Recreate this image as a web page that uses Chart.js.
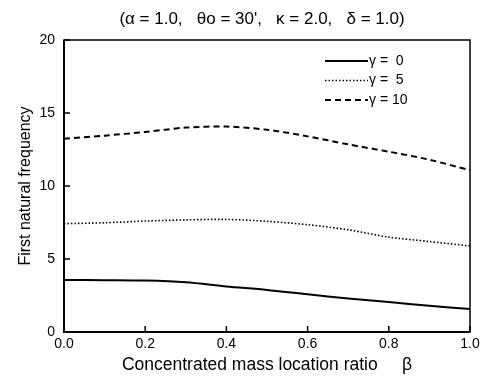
<!DOCTYPE html>
<html><head><meta charset="utf-8">
<script src="https://cdn.jsdelivr.net/npm/chart.js@4"></script>
<style>html,body{margin:0;padding:0;background:#fff}#wrap{width:490px;height:381px}</style>
</head><body><div id="wrap"><canvas id="c" width="490" height="381"></canvas></div>
<script>
const betas  = [0.0, 0.1, 0.2, 0.3, 0.4, 0.5, 0.6, 0.7, 0.8, 0.9, 1.0];
const gamma0 = [3.57, 3.55, 3.52, 3.40, 3.12, 2.88, 2.58, 2.30, 2.05, 1.80, 1.57];
const gamma5 = [7.42, 7.48, 7.60, 7.68, 7.71, 7.58, 7.35, 7.00, 6.50, 6.20, 5.89];
const gamma10 = [13.24, 13.45, 13.70, 14.00, 14.07, 13.85, 13.40, 12.85, 12.35, 11.80, 11.08];
const seriesLabels = ['\u03b3 =  0', '\u03b3 =  5', '\u03b3 = 10'];
const xTickValues = [0.0, 0.2, 0.4, 0.6, 0.8, 1.0];
const yTickValues = [0, 5, 10, 15, 20];
const titleText = "(\u03b1 = 1.0,   \u03b8o = 30',   \u03ba = 2.0,   \u03b4 = 1.0)";
const xTitle = 'Concentrated mass location ratio     \u03b2';
const yTitle = 'First natural frequency';

const FONT = "'Liberation Sans', Arial, sans-serif";
const toPts = arr => betas.map((b, i) => ({x: b, y: arr[i]}));

const styles = [
  {borderDash: [], borderWidth: 2},
  {borderDash: [1.5, 2], borderWidth: 1.6},
  {borderDash: [6, 4], borderWidth: 2}
];
const seriesData = [gamma0, gamma5, gamma10];

const framePlugin = {
  id: 'frame',
  afterDraw(chart) {
    const {ctx, chartArea: a, scales} = chart;
    ctx.save();
    ctx.strokeStyle = '#000';
    ctx.lineWidth = 1.5;
    ctx.strokeRect(a.left, a.top, a.right - a.left, a.bottom - a.top);
    ctx.lineWidth = 2;
    ctx.beginPath();
    ctx.moveTo(a.left, a.top); ctx.lineTo(a.left, a.bottom); ctx.lineTo(a.right, a.bottom);
    ctx.stroke();
    ctx.lineWidth = 1.5;
    ctx.beginPath();
    xTickValues.forEach(v => {
      const px = scales.x.getPixelForValue(v);
      ctx.moveTo(px, a.bottom); ctx.lineTo(px, a.bottom - 6);
    });
    yTickValues.forEach(v => {
      const py = scales.y.getPixelForValue(v);
      ctx.moveTo(a.left, py); ctx.lineTo(a.left + 6, py);
    });
    ctx.stroke();
    // title
    ctx.fillStyle = '#000';
    ctx.font = '17px ' + FONT;
    ctx.textAlign = 'center';
    ctx.textBaseline = 'middle';
    ctx.fillText(titleText, (a.left + a.right) / 2 - 5, 19);
    // legend
    ctx.font = '14px ' + FONT;
    ctx.textAlign = 'left';
    chart.data.datasets.forEach((ds, i) => {
      const y = a.top + 21 + i * 19.5;
      const x0 = a.right - 145, x1 = a.right - 102;
      ctx.setLineDash(ds.borderDash || []);
      ctx.lineWidth = ds.borderWidth;
      ctx.beginPath(); ctx.moveTo(x0, y); ctx.lineTo(x1, y); ctx.stroke();
      ctx.setLineDash([]);
      ctx.fillText(ds.label, x1 + 1, y);
    });
    ctx.restore();
  }
};

new Chart(document.getElementById('c'), {
  type: 'line',
  data: {
    datasets: seriesData.map((arr, i) => ({
      label: seriesLabels[i],
      data: toPts(arr),
      borderColor: '#000',
      borderWidth: styles[i].borderWidth,
      borderDash: styles[i].borderDash,
      pointRadius: 0,
      tension: 0.3,
      fill: false
    }))
  },
  options: {
    responsive: false,
    animation: false,
    layout: {padding: {left: 0, right: 20, top: 40, bottom: 0}},
    plugins: {legend: {display: false}, title: {display: false}, tooltip: {enabled: false}},
    scales: {
      x: {
        type: 'linear', min: 0, max: 1,
        afterBuildTicks: s => { s.ticks = xTickValues.map(v => ({value: v})); },
        afterFit: s => { s.height = 49; },
        grid: {display: false, drawTicks: false},
        border: {display: false},
        ticks: {color: '#000', font: {family: FONT, size: 14}, padding: 4,
                callback: v => Number(v).toFixed(1), maxRotation: 0},
        title: {display: true, text: xTitle, color: '#000',
                font: {family: FONT, size: 17.5}, padding: {top: 0, bottom: 5}}
      },
      y: {
        type: 'linear', min: 0, max: 20,
        afterBuildTicks: s => { s.ticks = yTickValues.map(v => ({value: v})); },
        afterFit: s => { s.width = 64; },
        grid: {display: false, drawTicks: false},
        border: {display: false},
        ticks: {color: '#000', font: {family: FONT, size: 14}, padding: 9},
        title: {display: true, text: yTitle, color: '#000',
                font: {family: FONT, size: 16}, padding: {top: 16, bottom: 0}}
      }
    }
  },
  plugins: [framePlugin]
});
</script></body></html>
